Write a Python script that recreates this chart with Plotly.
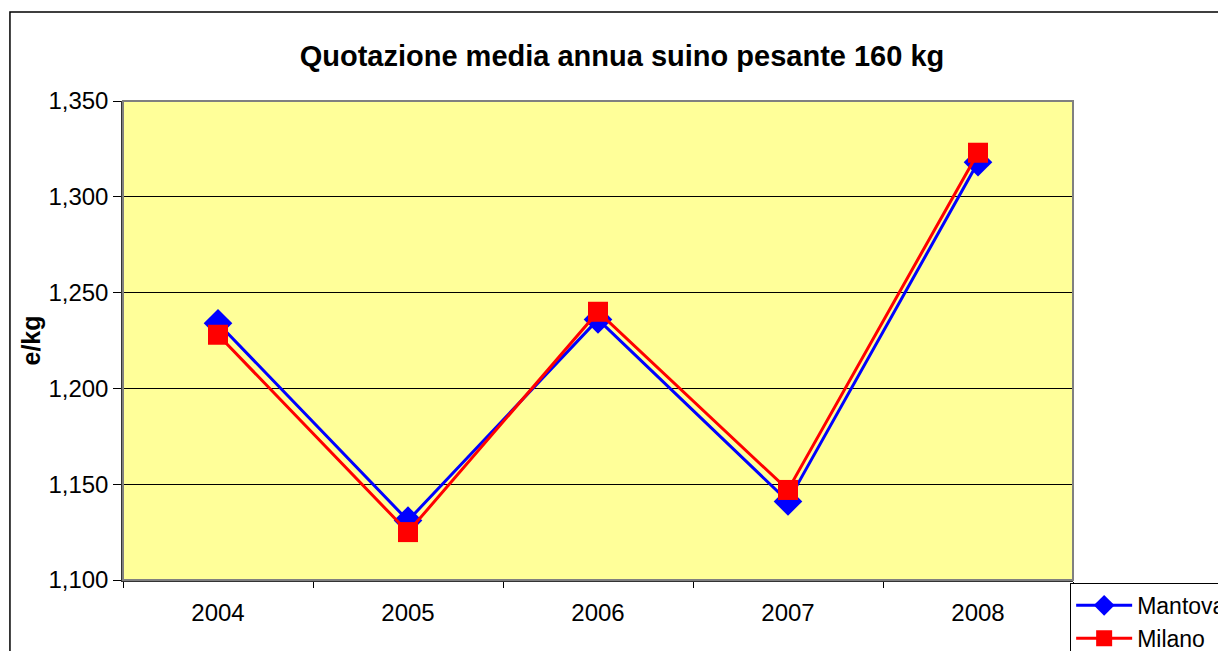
import plotly.graph_objects as go

years = ["2004", "2005", "2006", "2007", "2008"]
mantova = [1.234, 1.131, 1.236, 1.141, 1.318]
milano = [1.228, 1.125, 1.240, 1.147, 1.323]

fig = go.Figure()
fig.add_trace(go.Scatter(
    x=years, y=mantova, mode='lines+markers', name='Mantova',
    line=dict(width=3, color='#0000FF'),
    marker=dict(symbol='diamond', size=22, color='#0000FF')
))
fig.add_trace(go.Scatter(
    x=years, y=milano, mode='lines+markers', name='Milano',
    line=dict(width=3, color='#FF0000'),
    marker=dict(symbol='square', size=20, color='#FF0000')
))

# outer chart frame (runs off the page like the original)
fig.add_shape(type='rect', xref='paper', yref='paper',
              x0=-0.119, x1=1.3, y0=-0.3, y1=1.186,
              line=dict(color='black', width=1.5), layer='below')
# plot area border
fig.add_shape(type='rect', xref='paper', yref='paper',
              x0=0, x1=1, y0=0, y1=1,
              line=dict(color='#808080', width=2))

fig.update_xaxes(
    type='category', tickson='boundaries', ticks='outside', ticklen=6,
    tickcolor='black', showgrid=False, showline=True, linecolor='#333333',
    linewidth=1.5, tickfont=dict(size=24, color='black'), range=[-0.5, 4.5],
    ticklabelstandoff=10
)
fig.update_yaxes(
    range=[1.100, 1.350], dtick=0.05, tickformat='.3f', ticks='outside',
    ticklen=8, tickcolor='black', showgrid=True, gridcolor='black',
    gridwidth=1, showline=True, linecolor='#333333', linewidth=1.5,
    zeroline=False, tickfont=dict(size=24, color='black'),
    title=dict(text='<b>e/kg</b>', font=dict(size=25, color='black'), standoff=1)
)
# page has an 8px body margin, so margins are shifted by 8px
fig.update_layout(
    width=1226, height=651,
    separators=',.',
    font=dict(family='Liberation Sans, Arial, sans-serif', color='black'),
    title=dict(text='<b>Quotazione media annua suino pesante 160 kg</b>',
               x=0.5008, xanchor='center', y=0.926, yanchor='middle',
               font=dict(size=29, color='black')),
    plot_bgcolor='#FFFF99',
    paper_bgcolor='white',
    margin=dict(l=115, r=161, t=93, b=79, autoexpand=False),
    legend=dict(x=0.997, y=-0.006, xanchor='left', yanchor='top',
                bordercolor='black', borderwidth=1, bgcolor='white',
                font=dict(size=23, color='black'), tracegroupgap=0,
                itemwidth=56)
)

fig.write_html("out.html")
